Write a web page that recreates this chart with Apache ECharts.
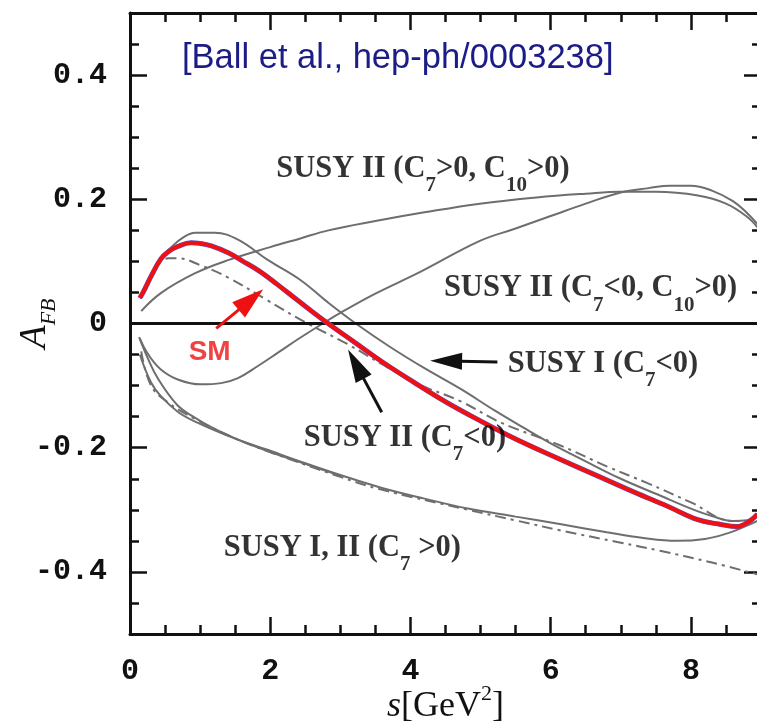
<!DOCTYPE html>
<html>
<head>
<meta charset="utf-8">
<script src="https://cdn.jsdelivr.net/npm/echarts@6/dist/echarts.min.js"></script>
<style>
html,body{margin:0;padding:0;background:#fff;}
#chart{width:757px;height:723px;}
</style>
</head>
<body>
<div id="chart"></div>
<script>
// tick labels
var xTicks = [0, 2, 4, 6, 8];
var yTicks = [-0.4, -0.2, 0, 0.2, 0.4];

// SM curve (red)
var smCurve = [[0.14,0.041],[0.2,0.053],[0.3,0.076],[0.44,0.104],[0.55,0.116],[0.68,0.124],[0.87,0.13],[1.0,0.129],[1.16,0.125],[1.4,0.114],[1.6,0.101],[1.85,0.084],[2.1,0.063],[2.35,0.041],[2.6,0.019],[2.85,-0.002],[3.2,-0.03],[3.6,-0.062],[4.04,-0.094],[4.5,-0.126],[5.0,-0.157],[5.5,-0.186],[6.1,-0.217],[6.7,-0.247],[7.2,-0.272],[7.66,-0.294],[8.1,-0.316],[8.4,-0.323],[8.66,-0.327],[8.84,-0.318],[8.95,-0.307]];
// SUSY I (C7<0)
var susy1Neg = [[0.14,0.041],[0.3,0.077],[0.44,0.105],[0.6,0.124],[0.75,0.138],[0.93,0.146],[1.21,0.146],[1.54,0.135],[1.97,0.102],[2.43,0.07],[2.8,0.036],[3.22,0.0],[3.7,-0.037],[4.2,-0.072],[4.71,-0.105],[5.2,-0.14],[5.6,-0.167],[6.0,-0.193],[6.5,-0.222],[7.0,-0.25],[7.56,-0.277],[8.0,-0.298],[8.3,-0.31],[8.6,-0.318],[8.8,-0.317],[8.95,-0.308]];
// SUSY II (C7<0), dash-dot
var susy2Neg = [[0.14,0.041],[0.25,0.068],[0.36,0.09],[0.44,0.1],[0.55,0.105],[0.68,0.105],[1.0,0.094],[1.4,0.074],[1.95,0.038],[2.5,0.002],[3.1,-0.033],[3.6,-0.066],[4.1,-0.097],[4.71,-0.125],[5.3,-0.16],[6.13,-0.196],[6.8,-0.23],[7.38,-0.257],[8.0,-0.288],[8.6,-0.318],[8.8,-0.318],[8.95,-0.308]];
// SUSY II (C7>0, C10>0)
var susy2PosPos = [[0.16,0.02],[0.44,0.049],[0.93,0.081],[1.4,0.102],[2.0,0.123],[2.43,0.137],[2.83,0.15],[3.5,0.165],[4.2,0.179],[4.99,0.193],[5.8,0.203],[6.5,0.209],[7.0,0.212],[7.5,0.212],[8.1,0.206],[8.5,0.193],[8.8,0.172],[8.95,0.155]];
// SUSY II (C7<0, C10>0)
var susy2NegPos = [[0.14,-0.024],[0.25,-0.048],[0.44,-0.074],[0.7,-0.091],[1.01,-0.098],[1.3,-0.096],[1.54,-0.088],[1.83,-0.068],[2.11,-0.047],[2.4,-0.025],[2.75,0.0],[3.0,0.017],[3.5,0.048],[4.14,0.083],[4.99,0.133],[5.5,0.153],[6.0,0.173],[6.5,0.193],[7.0,0.211],[7.4,0.218],[7.7,0.222],[8.0,0.222],[8.3,0.214],[8.6,0.197],[8.8,0.178],[8.95,0.16]];
// SUSY I, II (C7>0)
var susyPosA = [[0.13,-0.022],[0.25,-0.055],[0.4,-0.089],[0.68,-0.132],[0.93,-0.152],[1.16,-0.167],[1.5,-0.185],[1.95,-0.203],[2.5,-0.225],[3.0,-0.244],[3.57,-0.264],[4.2,-0.282],[4.82,-0.298],[5.5,-0.311],[6.13,-0.323],[6.8,-0.336],[7.3,-0.345],[7.8,-0.35],[8.2,-0.347],[8.52,-0.338],[8.75,-0.328],[8.95,-0.318]];
var susyPosB = [[0.14,-0.05],[0.3,-0.095],[0.44,-0.117],[0.68,-0.142],[0.93,-0.158],[1.4,-0.181],[1.95,-0.205],[2.5,-0.226],[3.0,-0.245]];
var susyPosDash = [[0.16,-0.045],[0.3,-0.1],[0.54,-0.127],[0.93,-0.154],[1.4,-0.18],[1.95,-0.205],[3.0,-0.247],[3.57,-0.267],[4.82,-0.3],[5.5,-0.317],[6.13,-0.333],[7.0,-0.353],[7.56,-0.366],[8.3,-0.385],[8.95,-0.404]];

// annotation texts and where they sit (data coords)
var noteTexts = [
    '{m|SUSY II (C}{s|7}{m|>0, C}{s|10}{m|>0)}',
    '{m|SUSY II (C}{s|7}{m|<0, C}{s|10}{m|>0)}',
    '{m|SUSY I (C}{s|7}{m|<0)}',
    '{m|SUSY II (C}{s|7}{m|<0)}',
    '{m|SUSY I, II (C}{s|7}{m| >0)}'
];
var notePos = [[2.08,0.249],[4.47,0.057],[5.38,-0.065],[2.47,-0.184],[1.33,-0.361]];
var smPos = [0.83,-0.046];
// arrows: [from, to]
var arrows = [
    {from:[1.23,-0.008], to:[1.90,0.055], color:'#ee1111', head:32, w:20},
    {from:[5.24,-0.062], to:[4.28,-0.060], color:'#111', head:32, w:17},
    {from:[3.59,-0.143], to:[3.11,-0.042], color:'#111', head:33, w:18}
];

var chart = echarts.init(document.getElementById('chart'));

var ink = '#111';
var gray = '#6e6e6e';
var tickFont = {fontFamily:'Liberation Mono', fontWeight:'bold', fontSize:30, color:ink};

function axis(dim, pos, major, extra) {
    var a = {
        type:'value',
        position:pos,
        min: dim == 'x' ? 0 : -0.5,
        max: dim == 'x' ? 9 : 0.5,
        axisLine:{show:major, onZero:false, lineStyle:{color:ink, width:3}},
        axisTick:{show:true, inside:true, length: major ? 17 : 9, lineStyle:{color:ink, width:2.5}},
        axisLabel:{show:false},
        splitLine:{show:false}
    };
    if (major) {
        a.axisTick.customValues = dim == 'x' ? xTicks : yTicks;
    } else {
        a.interval = dim == 'x' ? 0.5 : 0.05;
    }
    if (extra) {
        for (var k in extra) a[k] = extra[k];
    }
    return a;
}

function curve(data, style, z) {
    return {
        type:'line', data:data, xAxisIndex:0, yAxisIndex:0,
        showSymbol:false, smooth:0.4, z:z || 2, silent:true,
        lineStyle:style
    };
}

var noteData = [];
for (var i = 0; i < noteTexts.length; i++) {
    noteData.push({value:notePos[i], label:{formatter:noteTexts[i]}});
}
noteData.push({value:smPos, label:{formatter:'{r|SM}'}});

var option = {
    animation:false,
    backgroundColor:'#fff',
    title:{
        text:'[Ball et al., hep-ph/0003238]',
        left:182, top:41, padding:0,
        textStyle:{fontFamily:'Liberation Sans', fontSize:34.5, fontWeight:'normal', color:'#1c1c86'}
    },
    grid:{left:130, right:-4, top:13, bottom:89, outerBoundsMode:'none', containLabel:false},
    xAxis:[
        axis('x','bottom',true,{
            axisLabel:Object.assign({show:true, customValues:xTicks, margin:22}, tickFont),
            name:'{i|s}{n|[GeV}{p|2}{n|]}',
            nameLocation:'middle', nameGap:55, nameMoveOverlap:false,
            nameTextStyle:{rich:{
                i:{fontFamily:'Liberation Serif', fontStyle:'italic', fontSize:36, color:ink, lineHeight:36, verticalAlign:'middle'},
                n:{fontFamily:'Liberation Serif', fontSize:36, color:ink, lineHeight:36, verticalAlign:'middle'},
                p:{fontFamily:'Liberation Serif', fontSize:22, color:ink, lineHeight:22, padding:[0,0,20,0], verticalAlign:'bottom'}
            }}
        }),
        axis('x','bottom',false),
        axis('x','top',true),
        axis('x','top',false)
    ],
    yAxis:[
        axis('y','left',true,{
            axisLabel:Object.assign({show:true, customValues:yTicks, margin:23}, tickFont),
            name:'{a|A}{b|FB}',
            nameLocation:'middle', nameRotate:90, nameGap:76, nameMoveOverlap:false,
            nameTextStyle:{rich:{
                a:{fontFamily:'Liberation Serif', fontStyle:'italic', fontSize:38, color:ink, lineHeight:38, verticalAlign:'middle'},
                b:{fontFamily:'Liberation Serif', fontStyle:'italic', fontSize:22, color:ink, lineHeight:22, padding:[22,0,0,0], verticalAlign:'top'}
            }}
        }),
        axis('y','left',false),
        axis('y','right',true),
        axis('y','right',false)
    ],
    series:[
        {
            type:'line', data:[], xAxisIndex:0, yAxisIndex:0, silent:true,
            markLine:{silent:true, symbol:'none', label:{show:false},
                lineStyle:{color:ink, width:3, type:'solid'},
                data:[{yAxis:0}]}
        },
        curve(susy2PosPos, {color:gray, width:2}),
        curve(susy2NegPos, {color:gray, width:2}),
        curve(susyPosA, {color:gray, width:2}),
        curve(susyPosB, {color:gray, width:2}),
        curve(susyPosDash, {color:gray, width:2, type:[11,5,3,5]}),
        curve(susy2Neg, {color:gray, width:2, type:[11,5,3,5]}),
        curve(susy1Neg, {color:gray, width:2}),
        curve(smCurve, {color:'#4a64e6', width:5}, 5),
        curve(smCurve, {color:'#f01010', width:4.2}, 6),
        {
            type:'scatter', xAxisIndex:0, yAxisIndex:0, silent:true, z:8,
            symbolSize:1, itemStyle:{color:'rgba(0,0,0,0)'},
            data:noteData,
            label:{
                show:true, position:'right', distance:0,
                rich:{
                    m:{fontFamily:'Liberation Serif', fontWeight:'bold', fontSize:30.5, color:'#000', lineHeight:31, verticalAlign:'middle'},
                    s:{fontFamily:'Liberation Serif', fontWeight:'bold', fontSize:21, color:'#000', lineHeight:21, padding:[22,0,0,0], verticalAlign:'top'},
                    r:{fontFamily:'Liberation Sans', fontWeight:'bold', fontSize:28, color:'#ee1111'}
                }
            }
        }
    ]
};
chart.setOption(option);

// arrows drawn from data coordinates
function arrowShapes(a) {
    var p0 = chart.convertToPixel({xAxisIndex:0, yAxisIndex:0}, a.from);
    var p1 = chart.convertToPixel({xAxisIndex:0, yAxisIndex:0}, a.to);
    var dx = p1[0]-p0[0], dy = p1[1]-p0[1];
    var len = Math.sqrt(dx*dx+dy*dy);
    var ux = dx/len, uy = dy/len;
    var bx = p1[0]-ux*a.head, by = p1[1]-uy*a.head;
    return [
        {type:'line', z:20, shape:{x1:p0[0], y1:p0[1], x2:bx+ux*2, y2:by+uy*2}, style:{stroke:a.color, lineWidth:3}},
        {type:'polygon', z:20, shape:{points:[[p1[0],p1[1]],[bx-uy*a.w/2, by+ux*a.w/2],[bx+uy*a.w/2, by-ux*a.w/2]]}, style:{fill:a.color}}
    ];
}
var g = [];
for (var j = 0; j < arrows.length; j++) {
    g = g.concat(arrowShapes(arrows[j]));
}
chart.setOption({graphic:g});
</script>
</body>
</html>
